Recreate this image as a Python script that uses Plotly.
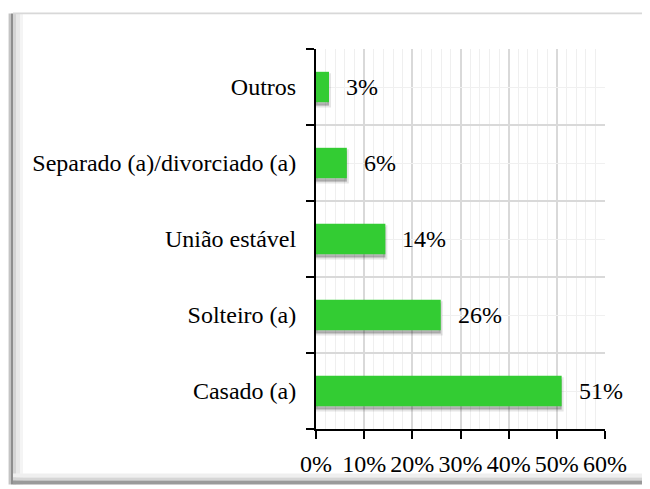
import plotly.graph_objects as go

# ---- data ----
categories = ["Casado (a)", "Solteiro (a)", "União estável",
              "Separado (a)/divorciado (a)", "Outros"]
values = [0.51, 0.259, 0.144, 0.064, 0.027]
x_tick_vals = [0, 0.1, 0.2, 0.3, 0.4, 0.5, 0.6]
x_tick_text = ["0%", "10%", "20%", "30%", "40%", "50%", "60%"]

positions = list(range(len(categories)))

W, H = 650, 489
OFF = 8  # page body margin
L, R, T, B = 316, 605, 49, 433  # plot area in page px

def px(x):
    return (x - L) / (R - L)

def py(y):
    return (B - y) / (B - T)

FONT = "Liberation Serif, Times New Roman, serif"
FS = 24
GREEN = "#33CC33"

fig = go.Figure()

# shadow of bars
fig.add_trace(go.Bar(
    x=values, y=positions, orientation="h",
    width=0.40, offset=-0.245,
    marker=dict(color="rgba(0,0,0,0.26)",
                line=dict(color="rgba(0,0,0,0.10)", width=4)),
    hoverinfo="skip", showlegend=False,
))
# bars
fig.add_trace(go.Bar(
    x=values, y=positions, orientation="h",
    width=0.40, offset=-0.20,
    marker=dict(color=GREEN, line=dict(width=0)),
    showlegend=False,
))

# value labels
for v, p in zip(values, positions):
    fig.add_annotation(
        x=v, y=p, text=f"{round(v*100):.0f}%", showarrow=False,
        xanchor="left", yanchor="middle", xshift=15,
        font=dict(family=FONT, size=FS, color="#000000"),
    )

shapes = []
def rect(x0, y0, x1, y1, color):
    shapes.append(dict(type="rect", xref="paper", yref="paper",
                       x0=px(x0), x1=px(x1), y0=py(y1), y1=py(y0),
                       fillcolor=color, line=dict(width=0), layer="below"))

rect(8, 13, 9, 489, "#e6e6e6")
rect(9, 13, 11, 489, "#c4c4c4")
rect(11, 13, 13, 489, "#8e8e8e")
rect(13, 13, 16, 489, "#d4d4d4")
rect(16, 13, 20, 489, "#e8e8e8")
rect(20, 13, 23, 489, "#f4f4f4")
rect(13, 478, 650, 482, "#efefef")
rect(13, 482, 650, 485, "#d6d6d6")
rect(13, 485, 650, 489, "#9a9a9a")
rect(13, 12, 650, 14, "#d8d8d8")
rect(646, 26, 648, 478, "#ececec")

fig.update_layout(
    width=W - OFF, height=H - OFF,
    margin=dict(l=L - OFF, r=W - R, t=T - OFF, b=H - B, pad=0),
    paper_bgcolor="white", plot_bgcolor="white",
    barmode="overlay",
    shapes=shapes,
    font=dict(family=FONT, size=FS, color="#000000"),
    xaxis=dict(
        range=[0, 0.6], tickvals=x_tick_vals, ticktext=x_tick_text,
        showgrid=True, gridcolor="#d9d9d9", gridwidth=1.5,
        showline=True, linecolor="#000000", linewidth=2,
        ticks="outside", ticklen=8, tickwidth=1.5, tickcolor="#000000",
        ticklabelstandoff=4,
        minor=dict(dtick=0.02, tick0=0, showgrid=True,
                   gridcolor="#efefef", gridwidth=1, ticks=""),
        zeroline=False, fixedrange=True,
        tickfont=dict(family=FONT, size=FS),
    ),
    yaxis=dict(
        range=[-0.5, 4.5], tickvals=positions, ticktext=categories,
        showgrid=True, gridcolor="#f0f0f0", gridwidth=1,
        showline=True, linecolor="#000000", linewidth=2,
        ticks="", ticklabelstandoff=13,
        minor=dict(tickvals=[-0.5, 0.5, 1.5, 2.5, 3.5, 4.5],
                   showgrid=True, gridcolor="#d9d9d9", gridwidth=1.5,
                   ticks="outside", ticklen=8, tickwidth=1.5,
                   tickcolor="#000000"),
        zeroline=False, fixedrange=True,
        tickfont=dict(family=FONT, size=FS),
    ),
)

fig.write_html("out.html")
